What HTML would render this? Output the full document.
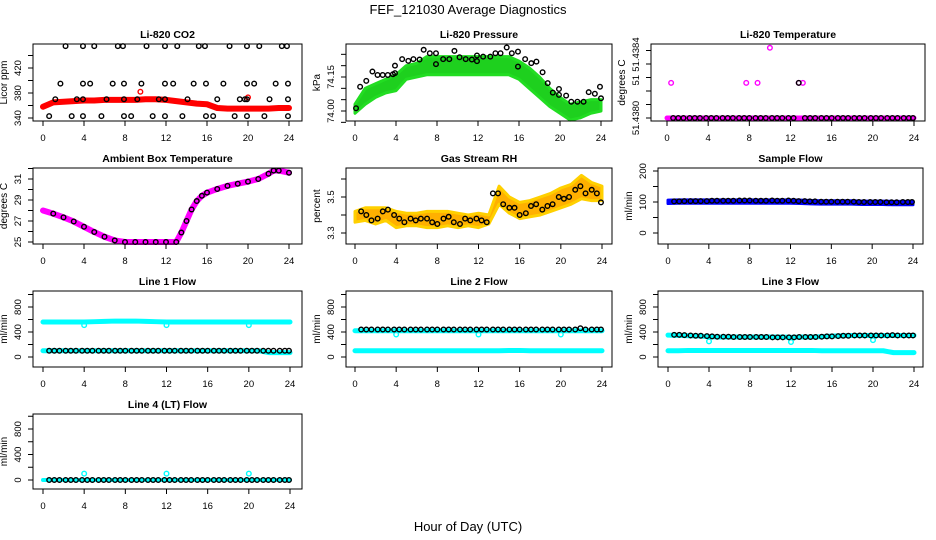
<!DOCTYPE html>
<html><head><meta charset="utf-8"><style>
html,body{margin:0;padding:0;background:#fff;}
svg{display:block;font-family:"Liberation Sans",sans-serif;}
</style></head><body>
<svg id="c" width="936" height="540" xmlns="http://www.w3.org/2000/svg">
<rect width="936" height="540" fill="#fff"/>
<text x="468" y="14" text-anchor="middle" font-size="13">FEF_121030  Average Diagnostics</text>
<text x="468" y="531" text-anchor="middle" font-size="13">Hour of Day (UTC)</text>
</svg>
<script>
// shared hours
const hrs=[0.6,1.1,1.6,2.2,2.7,3.2,3.8,4.3,4.8,5.4,5.9,6.4,7.0,7.5,8.0,8.6,9.1,9.6,10.2,10.7,11.2,11.8,12.3,12.8,13.4,13.9,14.4,15.0,15.5,16.0,16.6,17.1,17.6,18.2,18.7,19.2,19.8,20.3,20.8,21.4,21.9,22.4,23.0,23.5,23.9];
const hourly=[0,1,2,3,4,5,6,7,8,9,10,11,12,13,14,15,16,17,18,19,20,21,22,23,24];
const xTicks=[0,4,8,12,16,20,24];
// CO2
const co2BandCenter=[358,365,366,367,368,368,369,369,369,369,370,370,369,367,365,363,362,356,355,355,355,355,355,356,356];
const co2Hours=[2.2,3.9,5.0,7.3,7.8,10.1,11.9,13.1,15.2,15.8,18.2,19.9,21.1,23.3,23.8,1.7,3.9,4.6,6.8,7.9,9.6,11.9,12.7,14.7,15.9,17.6,19.9,20.6,22.7,23.9,1.2,3.3,3.9,6.2,7.9,9.2,11.3,11.9,14.1,17.0,19.2,19.7,19.9,22.1,23.9,0.6,2.8,3.9,5.7,7.9,8.6,10.7,11.9,13.6,15.9,16.6,18.7,19.9,21.6,23.9];
const co2Vals=[455,455,455,455,455,455,455,455,455,455,455,455,455,455,455,395,395,395,395,395,395,395,395,395,395,395,395,395,395,395,370,370,370,370,370,370,370,370,370,370,370,370,370,370,370,343,343,343,343,343,343,343,343,343,343,343,343,343,343,343];
const co2Ticks=[340,360,380,400,420,440];const co2Labels=[340,380,420];
// Pressure
const presLo=[73.99,74.03,74.06,74.08,74.09,74.14,74.15,74.16,74.16,74.16,74.16,74.16,74.16,74.16,74.16,74.16,74.14,74.10,74.06,74.02,73.99,73.96,73.97,73.99,74.00];
const presHi=[74.03,74.10,74.12,74.14,74.16,74.20,74.21,74.24,74.24,74.24,74.24,74.24,74.24,74.24,74.24,74.24,74.22,74.19,74.15,74.10,74.06,74.03,74.04,74.05,74.05];
const presHours=[0.1,0.5,1.1,1.7,2.2,2.7,3.2,3.7,3.9,3.9,4.6,5.2,5.7,6.3,6.7,7.3,7.9,7.9,8.6,9.2,9.7,10.2,10.8,11.4,11.9,11.9,12.5,13.2,13.7,14.2,14.8,15.3,15.9,15.9,16.6,17.2,17.7,18.3,18.8,19.3,19.9,19.9,20.6,21.1,21.7,22.3,22.8,23.4,23.9,24.0];
const presVals=[74.012,74.107,74.133,74.174,74.159,74.159,74.159,74.162,74.200,74.167,74.229,74.221,74.229,74.227,74.270,74.255,74.255,74.207,74.229,74.229,74.265,74.237,74.229,74.227,74.245,74.220,74.240,74.240,74.255,74.255,74.280,74.255,74.262,74.196,74.229,74.211,74.218,74.171,74.123,74.081,74.097,74.071,74.068,74.041,74.041,74.041,74.083,74.076,74.107,74.056];
const presTicks=[73.95,74.00,74.05,74.10,74.15,74.20,74.25];
// Li-820 temperature
const tempBlackVals=[51.4380,51.4380,51.4380,51.4380,51.4380,51.4380,51.4380,51.4380,51.4380,51.4380,51.4380,51.4380,51.4380,51.4380,51.4380,51.4380,51.4380,51.4380,51.4380,51.4380,51.4380,51.4380,51.4380,51.43826,51.4380,51.4380,51.4380,51.4380,51.4380,51.4380,51.4380,51.4380,51.4380,51.4380,51.4380,51.4380,51.4380,51.4380,51.4380,51.4380,51.4380,51.4380,51.4380,51.4380,51.4380];
const tempMagHours=[0.4,7.7,8.8,10.0,12.8,13.2];
const tempMagVals=[51.43826,51.43826,51.43826,51.43852,51.43826,51.43826];
const tempTicks=[51.4380,51.4381,51.4382,51.4383,51.4384,51.4385];
// Ambient box
const ambHours=[0,1,2,3,4,5,6,7,8,9,10,11,12,13,13.5,14,14.5,15,15.5,16,17,18,19,20,21,22,22.5,23,24];
const ambVals=[28.0,27.7,27.35,26.95,26.45,25.95,25.5,25.15,25.0,25.0,25.0,25.0,25.0,25.0,25.9,27.0,28.1,28.9,29.4,29.7,30.05,30.35,30.55,30.75,31.0,31.5,31.8,31.8,31.6];
const ambTicks=[25,26,27,28,29,30,31,32];const ambLabels=[25,27,29,31];
// RH
const rhLo=[3.36,3.37,3.35,3.37,3.33,3.34,3.34,3.33,3.33,3.34,3.33,3.34,3.33,3.35,3.46,3.41,3.38,3.39,3.40,3.42,3.44,3.46,3.49,3.48,3.48];
const rhHi=[3.42,3.44,3.44,3.44,3.42,3.41,3.41,3.42,3.42,3.42,3.41,3.40,3.41,3.40,3.56,3.50,3.47,3.48,3.50,3.52,3.55,3.57,3.62,3.58,3.56];
const rhVals=[3.42,3.40,3.37,3.38,3.42,3.43,3.40,3.38,3.36,3.38,3.37,3.38,3.38,3.36,3.35,3.38,3.39,3.36,3.35,3.38,3.37,3.38,3.37,3.36,3.52,3.52,3.46,3.44,3.44,3.40,3.41,3.45,3.46,3.43,3.45,3.46,3.50,3.49,3.50,3.54,3.56,3.52,3.54,3.52,3.47];
const rhTicks=[3.3,3.4,3.5,3.6];const rhLabels=[3.3,3.5];
// Sample flow
const sfLo=[95,96,96,96,96,96,96,96,96,96,96,96,96,95,94,93,93,93,93,92,92,92,91,91,91];
const sfHi=[106,107,107,107,107,107,107,107,107,107,107,107,107,106,105,104,104,104,104,103,103,103,102,102,102];
const sfVals=[102,102,103,103,103,103,103,104,104,104,104,104,105,105,105,104,104,104,105,104,104,105,104,103,103,102,102,101,101,101,101,101,101,101,100,100,100,100,100,99,99,99,100,100,100];
const sfTicks=[0,50,100,150,200];const sfLabels=[0,100,200];
// Line flows
const flowTicks=[0,200,400,600,800,1000];const flowLabels=[0,400,800];
const dipHours=[4,12,20];
const l1High=[560,560,560,560,560,565,570,575,575,575,570,565,560,560,560,560,560,560,560,560,560,560,560,560,560];
const l1Low=[100,100,100,100,100,100,100,100,100,100,100,100,100,100,100,100,100,100,100,100,100,100,70,70,70];
const l1Dips=[510,510,510];
const l1Black=[100,100,100,100,100,100,100,100,100,100,100,100,100,100,100,100,100,100,100,100,100,100,100,100,100,100,100,100,100,100,100,100,100,100,100,100,100,100,100,100,100,100,100,100,100];
const l2High=[420,420,420,420,420,420,420,420,420,420,420,420,420,420,420,420,420,420,420,420,420,420,420,420,420];
const l2Low=[100,100,100,100,100,100,100,100,100,100,100,100,100,100,100,105,105,100,100,100,100,100,100,100,100];
const l2Dips=[360,360,360];
const l2Black=[440,440,440,440,440,440,440,440,440,440,440,440,440,440,440,440,440,440,440,440,440,440,440,440,440,440,440,440,440,440,440,440,440,440,440,440,440,440,440,440,460,440,440,440,440];
const l3High=[350,345,340,335,325,320,320,320,320,320,320,320,315,320,320,325,335,340,345,345,345,345,345,345,345];
const l3Low=[100,100,105,105,105,105,105,105,105,105,105,105,105,105,105,100,100,100,100,100,100,100,70,70,70];
const l3Dips=[250,240,270];
const l3Black=[355,355,350,345,340,340,335,330,325,325,325,320,320,320,320,320,320,320,315,315,315,315,315,320,320,320,320,325,330,330,335,340,340,345,345,345,345,345,345,345,350,345,345,345,345];
const l4Dips=[100,100,100];
const l4Black=[0,0,0,0,0,0,0,0,0,0,0,0,0,0,0,0,0,0,0,0,0,0,0,0,0,0,0,0,0,0,0,0,0,0,0,0,0,0,0,0,0,0,0,0,0];

const svg=document.getElementById('c');
const NS='http://www.w3.org/2000/svg';
function el(tag,attrs,parent){const e=document.createElementNS(NS,tag);for(const k in attrs)e.setAttribute(k,attrs[k]);(parent||svg).appendChild(e);return e;}
function mkScale(v1,p1,v2,p2){return v=>p1+(v-v1)*(p2-p1)/(v2-v1);}

function panel(cfg){
  const g=el('g',{});
  
  
  const xs=mkScale(0,cfg.x0,24,cfg.x24);
  const ys=mkScale(cfg.v1,cfg.p1,cfg.v2,cfg.p2);
  cfg.draw(g,xs,ys);
  const box=el('rect',{x:cfg.l,y:cfg.t,width:cfg.r-cfg.l,height:cfg.b-cfg.t,fill:'none',stroke:'#000','stroke-width':1},g);
  
  
  const t=el('text',{x:(cfg.l+cfg.r)/2,y:cfg.t-6,'text-anchor':'middle','font-size':10.5,'font-weight':'bold'},g);
  t.textContent=cfg.title;
  
  
  xTicks.forEach(v=>{
    const x=xs(v);
    el('line',{x1:x,y1:cfg.b,x2:x,y2:cfg.b+5,stroke:'#000'},g);
    const lb=el('text',{x:x,y:cfg.b+20,'text-anchor':'middle','font-size':9.5},g);
    lb.textContent=v;
    
    
  });
  cfg.yTicks.forEach(v=>{const y=ys(v);el('line',{x1:cfg.l-5,y1:y,x2:cfg.l,y2:y,stroke:'#000'},g);});
  cfg.yLabels.forEach((v,i)=>{
    const y=ys(v);const x=cfg.l-12;
    const lb=el('text',{x:x,y:y,'text-anchor':'middle','font-size':9.5,transform:`rotate(-90 ${x} ${y})`},g);
    lb.textContent=cfg.yLabelText?cfg.yLabelText[i]:v;
    
    
  });
  const yt=el('text',{x:cfg.l-26,y:(cfg.t+cfg.b)/2,'text-anchor':'middle','font-size':10,transform:`rotate(-90 ${cfg.l-26} ${(cfg.t+cfg.b)/2})`},g);
  yt.textContent=cfg.ytitle;
  
  
}
function pts(g,xsArr,ysArr,xs,ys,stroke,name,r){
  xsArr.forEach((h,i)=>{
    const c=el('circle',{cx:xs(h),cy:ys(ysArr[i]),r:r||2.3,fill:'none',stroke:stroke,'stroke-width':1.4},g);
    
    
  });
}
function band(g,hs,lo,hi,xs,ys,fill,stroke,name){
  let d='M'+hs.map((h,i)=>xs(h)+','+ys(hi[i])).join(' L')+' L'+hs.slice().reverse().map((h,i)=>xs(h)+','+ys(lo[lo.length-1-i])).join(' L')+'Z';
  const p=el('path',{d:d,fill:fill,stroke:stroke,'stroke-width':3,'stroke-linejoin':'round'},g);
  
  
}
function thick(g,hs,vs,xs,ys,color,w,name){
  const p=el('polyline',{points:hs.map((h,i)=>xs(h)+','+ys(vs[i])).join(' '),fill:'none',stroke:color,'stroke-width':w,'stroke-linejoin':'round','stroke-linecap':'round'},g);
  
  
}

panel({name:'co2-panel',title:'Li-820 CO2',ytitle:'Licor ppm',l:33,r:302,t:44,b:121,x0:43,x24:289,v1:340,p1:118,v2:420,p2:68,yTicks:co2Ticks,yLabels:co2Labels,
 draw:(g,xs,ys)=>{thick(g,hourly,co2BandCenter,xs,ys,'#f00',6,'co2-band');pts(g,[9.5,20],[382,373],xs,ys,'#f00','co2-red-outlier');pts(g,co2Hours,co2Vals,xs,ys,'#000','co2-point');}});
panel({name:'pressure-panel',title:'Li-820 Pressure',ytitle:'kPa',l:346,r:612,t:44,b:121,x0:355,x24:601,v1:74.00,p1:111,v2:74.15,p2:77,yTicks:presTicks,yLabels:[74.00,74.15],yLabelText:['74.00','74.15'],
 draw:(g,xs,ys)=>{band(g,hourly,presLo,presHi,xs,ys,'#1ed01e','#22dd22','pressure-band');pts(g,presHours,presVals,xs,ys,'#000','pressure-point');}});
panel({name:'li820-temp-panel',title:'Li-820 Temperature',ytitle:'degrees C',l:651,r:925,t:44,b:121,x0:667,x24:914,v1:51.4380,p1:118,v2:51.4384,p2:64,yTicks:tempTicks,yLabels:[51.4380,51.43828,51.43847],yLabelText:['51.4380','51','51.4384'],
 draw:(g,xs,ys)=>{thick(g,[0,24],[51.4380,51.4380],xs,ys,'#f0f',5,'temp-band');pts(g,tempMagHours,tempMagVals,xs,ys,'#f0f','temp-outlier');pts(g,hrs,tempBlackVals,xs,ys,'#000','temp-point');}});
panel({name:'ambient-temp-panel',title:'Ambient Box Temperature',ytitle:'degrees C',l:33,r:302,t:168,b:244,x0:43,x24:289,v1:25,p1:242,v2:31,p2:179,yTicks:ambTicks,yLabels:ambLabels,
 draw:(g,xs,ys)=>{thick(g,ambHours,ambVals,xs,ys,'#f0f',6,'ambient-band');pts(g,ambHours.slice(1),ambVals.slice(1),xs,ys,'#000','ambient-point');}});
panel({name:'rh-panel',title:'Gas Stream RH',ytitle:'percent',l:346,r:612,t:168,b:244,x0:355,x24:602,v1:3.3,p1:233,v2:3.5,p2:197,yTicks:rhTicks,yLabels:rhLabels,
 draw:(g,xs,ys)=>{band(g,hourly,rhLo,rhHi,xs,ys,'#ffb000','#ffd000','rh-band');pts(g,hrs,rhVals,xs,ys,'#000','rh-point');}});
panel({name:'sample-flow-panel',title:'Sample Flow',ytitle:'ml/min',l:658,r:923,t:168,b:244,x0:668,x24:913,v1:0,p1:233,v2:200,p2:171,yTicks:sfTicks,yLabels:sfLabels,
 draw:(g,xs,ys)=>{band(g,hourly,sfLo,sfHi,xs,ys,'#0000ff','#0000ff','sample-flow-band');pts(g,hrs,sfVals,xs,ys,'#000','sample-flow-point');}});
function flowPanel(name,title,l,r,t,b,x0,x24,p0,p800,hi,lo,dips,blk){
 panel({name:name,title:title,ytitle:'ml/min',l:l,r:r,t:t,b:b,x0:x0,x24:x24,v1:0,p1:p0,v2:800,p2:p800,yTicks:flowTicks,yLabels:flowLabels,
  draw:(g,xs,ys)=>{ if(hi){thick(g,hourly,hi,xs,ys,'#00ffff',5,'flow-high-band');thick(g,hourly,lo,xs,ys,'#00ffff',5,'flow-low-band');}
   else thick(g,[0,24],[0,0],xs,ys,'#00ffff',4,'flow-zero-band');
   pts(g,dipHours,dips,xs,ys,'#00ffff','flow-dip-point');pts(g,hrs,blk,xs,ys,'#000','flow-point');}});
}
flowPanel('line1-flow-panel','Line 1 Flow',33,302,291,367,43,290,357,307,l1High,l1Low,l1Dips,l1Black);
flowPanel('line2-flow-panel','Line 2 Flow',346,612,291,367,355,602,357,307,l2High,l2Low,l2Dips,l2Black);
flowPanel('line3-flow-panel','Line 3 Flow',658,923,291,367,668,914,357,307,l3High,l3Low,l3Dips,l3Black);
flowPanel('line4-flow-panel','Line 4 (LT) Flow',33,302,414,489,43,290,480,429,null,null,l4Dips,l4Black);
</script>
</body></html>
